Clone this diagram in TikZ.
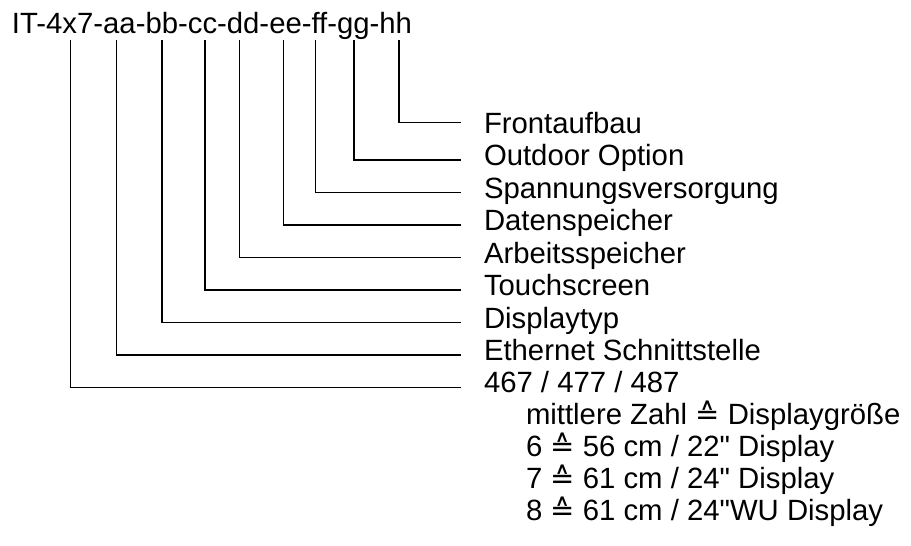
\documentclass[tikz,border=0pt]{standalone}
\usepackage{fontspec}
\setmainfont{Liberation Sans}[Ligatures=TeXOff]
\newfontfamily\symfnt{DejaVu Sans}
\newcommand{\corresp}{{\symfnt\fontsize{29}{34}\selectfont ≙}}
\begin{document}
\begin{tikzpicture}[x=1pt,y=-1pt,
  lbl/.style={anchor=base west,inner sep=0pt,outer sep=0pt,font=\fontsize{29.3}{35}\selectfont},
  conn/.style={draw=black,line width=1.3pt}]
\useasboundingbox (0,0) rectangle (911,546);
\node[lbl] (title) at (12,33.3) {IT-4x7-aa-bb-cc-dd-ee-ff-gg-hh};
% labels
\node[lbl] (l1) at (484,133) {Frontaufbau};
\node[lbl] (l2) at (484,165.5) {Outdoor Option};
\node[lbl] (l3) at (484,198) {Spannungsversorgung};
\node[lbl] (l4) at (484,230.5) {Datenspeicher};
\node[lbl] (l5) at (484,263) {Arbeitsspeicher};
\node[lbl] (l6) at (484,295.5) {Touchscreen};
\node[lbl] (l7) at (484,328) {Displaytyp};
\node[lbl] (l8) at (484,360.5) {Ethernet Schnittstelle};
\node[lbl] (l9) at (484,392) {467 / 477 / 487};
\node[lbl] (l10) at (526,424) {mittlere Zahl \corresp{} Displaygröße};
\node[lbl] (l11) at (526,456) {6 \corresp{} 56 cm / 22" Display};
\node[lbl] (l12) at (526,488) {7 \corresp{} 61 cm / 24" Display};
\node[lbl] (l13) at (526,520) {8 \corresp{} 61 cm / 24"WU Display};
% connector top points
\coordinate (t1) at (399,40);
\coordinate (t2) at (354,40);
\coordinate (t3) at (315.7,40);
\coordinate (t4) at (283.3,40);
\coordinate (t5) at (239.3,40);
\coordinate (t6) at (205,40);
\coordinate (t7) at (162,40);
\coordinate (t8) at (116.3,40);
\coordinate (t9) at (70.7,40);
% connector end points
\coordinate (e1) at (461,122.5);
\coordinate (e2) at (461,160);
\coordinate (e3) at (461,192.5);
\coordinate (e4) at (461,225);
\coordinate (e5) at (461,257.5);
\coordinate (e6) at (461,290);
\coordinate (e7) at (461,322.5);
\coordinate (e8) at (461,355);
\coordinate (e9) at (461,387.5);
\foreach \i in {1,...,9} {\draw[conn] (t\i) |- (e\i);}
\end{tikzpicture}
\end{document}
